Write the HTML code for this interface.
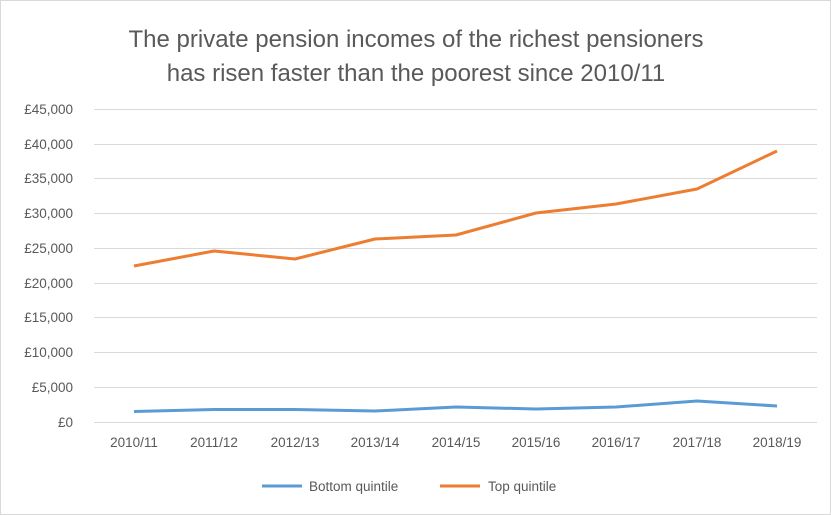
<!DOCTYPE html>
<html><head><meta charset="utf-8"><style>
html,body{margin:0;padding:0;background:#fff;}
svg{display:block;font-family:"Liberation Sans",sans-serif;}
</style></head><body>
<svg width="831" height="515" viewBox="0 0 831 515" xmlns="http://www.w3.org/2000/svg">
<rect x="0.5" y="0.5" width="830" height="514" fill="#fff" stroke="#d9d9d9"/>
<text x="416" y="47" text-anchor="middle" font-size="24" fill="#595959">The private pension incomes of the richest pensioners</text>
<text x="416" y="81" text-anchor="middle" font-size="24" fill="#595959">has risen faster than the poorest since 2010/11</text>
<g stroke="#d9d9d9" stroke-width="1">
<line x1="94" x2="817" y1="109.5" y2="109.5"/>
<line x1="94" x2="817" y1="144.5" y2="144.5"/>
<line x1="94" x2="817" y1="178.5" y2="178.5"/>
<line x1="94" x2="817" y1="213.5" y2="213.5"/>
<line x1="94" x2="817" y1="248.5" y2="248.5"/>
<line x1="94" x2="817" y1="283.5" y2="283.5"/>
<line x1="94" x2="817" y1="317.5" y2="317.5"/>
<line x1="94" x2="817" y1="352.5" y2="352.5"/>
<line x1="94" x2="817" y1="387.5" y2="387.5"/>
<line x1="94" x2="817" y1="422.5" y2="422.5"/>
</g>
<g font-size="13.5" fill="#595959" text-anchor="end">
<text x="73" y="114">£45,000</text>
<text x="73" y="149">£40,000</text>
<text x="73" y="183">£35,000</text>
<text x="73" y="218">£30,000</text>
<text x="73" y="253">£25,000</text>
<text x="73" y="288">£20,000</text>
<text x="73" y="322">£15,000</text>
<text x="73" y="357">£10,000</text>
<text x="73" y="392">£5,000</text>
<text x="73" y="427">£0</text>
</g>
<g font-size="13.5" fill="#595959" text-anchor="middle">
<text x="134" y="447">2010/11</text>
<text x="214" y="447">2011/12</text>
<text x="295" y="447">2012/13</text>
<text x="375" y="447">2013/14</text>
<text x="456" y="447">2014/15</text>
<text x="536" y="447">2015/16</text>
<text x="616" y="447">2016/17</text>
<text x="697" y="447">2017/18</text>
<text x="777" y="447">2018/19</text>
</g>
<polyline fill="none" stroke="#ed7d31" stroke-width="3" stroke-linejoin="round" points="134,266 214,251 295,259 375,239 456,235 536,213 616,204 697,189 777,151"/>
<polyline fill="none" stroke="#5b9bd5" stroke-width="3" stroke-linejoin="round" points="134,411.5 214,409.5 295,409.5 375,411 456,407 536,409 616,407 697,401 777,406"/>
<line x1="262" x2="302" y1="486" y2="486" stroke="#5b9bd5" stroke-width="3"/>
<text x="309" y="491" font-size="13.5" fill="#595959">Bottom quintile</text>
<line x1="440" x2="480" y1="486" y2="486" stroke="#ed7d31" stroke-width="3"/>
<text x="488" y="491" font-size="13.5" fill="#595959">Top quintile</text>
</svg>
</body></html>
